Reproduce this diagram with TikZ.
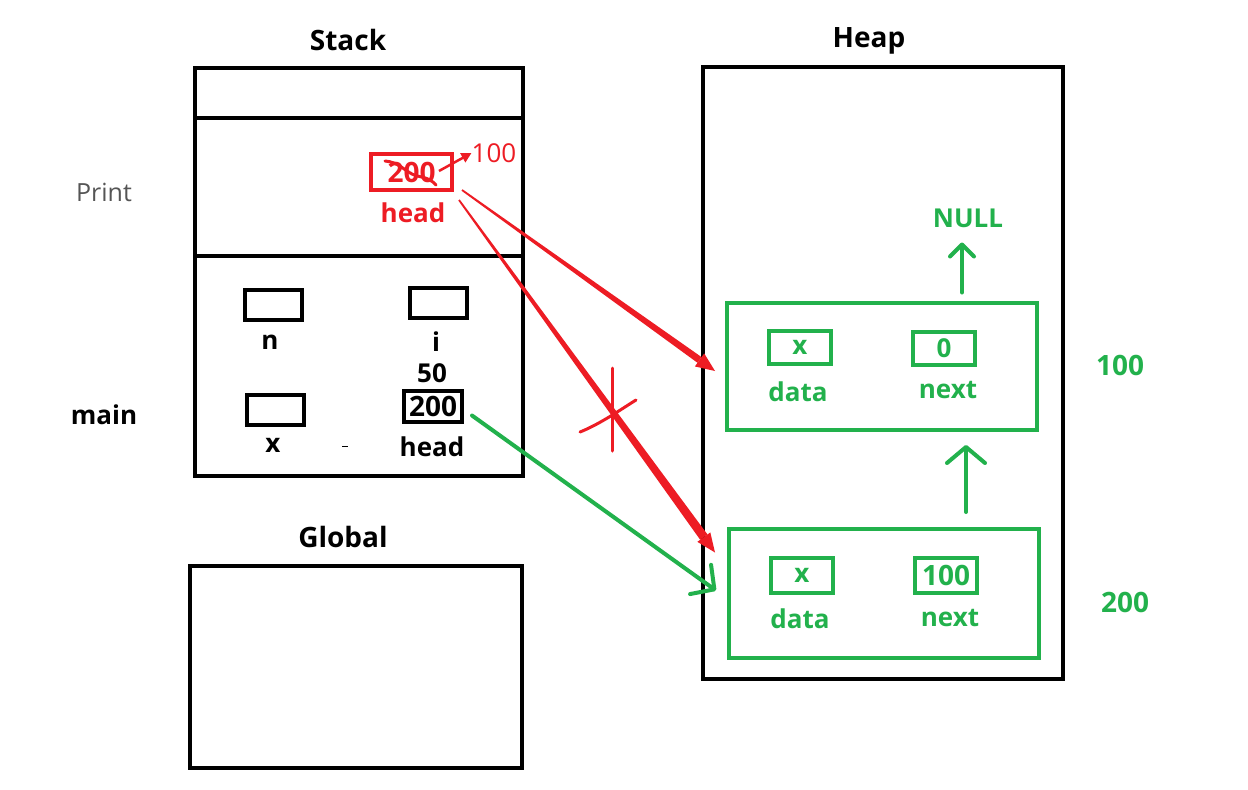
\documentclass[tikz,border=0pt]{standalone}
\usepackage{fontspec}
\setmainfont{Open Sans}
\usetikzlibrary{arrows.meta,calc}
\definecolor{pgreen}{RGB}{34,177,76}
\definecolor{pred}{RGB}{237,28,36}
\definecolor{pgray}{RGB}{85,85,85}
\newcommand{\taperarrow}[4]{%
  \path (#1) coordinate (ta) (#2) coordinate (tb);
  \coordinate (tc) at ($(tb)!19pt!(ta)$);
  \fill[pred] ($(ta)!#3!90:(tc)$) -- ($(tc)!#4!-90:(ta)$) -- ($(tc)!#4!90:(ta)$) -- ($(ta)!#3!-90:(tc)$) -- cycle;
  \fill[pred] (tb) -- ($(tc)!8pt!90:(tb)$) -- ($(tc)!8pt!-90:(tb)$) -- cycle;
}
\begin{document}
\begin{tikzpicture}[x=1pt,y=-1pt,
  frame/.style={draw=black,line width=4pt,inner sep=0pt},
  gframe/.style={draw=pgreen,line width=4pt,inner sep=0pt},
  lbl/.style={font=\fontsize{26}{30}\selectfont\bfseries,inner sep=0pt},
  digits/.style={font=\fontsize{28}{32}\selectfont\bfseries},
  ttl/.style={font=\fontsize{28}{32}\selectfont\bfseries,inner sep=0pt},
  glbl/.style={lbl,text=pgreen},
  garrow/.style={draw=pgreen,line width=4pt,line cap=round,-{Straight Barb[round,length=#1]}},
  garrow/.default={12pt,width=24pt}
]
\useasboundingbox (0,0) rectangle (1248,790);
\fill[white] (0,0) rectangle (1248,790);

% ---------- Stack ----------
\node[ttl] (stackt) at (348,40) {Stack};
\node[frame,minimum width=328pt,minimum height=408pt] (stack) at (359,272) {};
\draw[line width=4pt] ($(stack.north west)+(0,52)$) -- ($(stack.north east)+(0,52)$);
\draw[line width=4pt] ($(stack.north west)+(0,190)$) -- ($(stack.north east)+(0,190)$);
\node[font=\fontsize{25}{30}\selectfont,text=pgray,inner sep=0pt] (print) at (104,192) {Print};
\node[lbl] (mainl) at (104,415) {main};

% Print frame: head
\node[draw=pred,line width=4pt,inner sep=0pt,minimum width=81pt,minimum height=36pt,
      digits,text=pred] (rbox) at (411.5,172) {200};
\draw[pred,line width=3pt,line cap=round] (385,161) .. controls (398,162) and (404,170) .. (412,174)
      .. controls (420,178) and (428,176) .. (436,185);
\node[lbl,text=pred] (rhead) at (413,213) {head};
\node[font=\fontsize{26}{30}\selectfont,text=pred,inner sep=0pt] (r100) at (494,153) {100};
\draw[pred,line width=2.5pt,-{Triangle[length=10pt,width=10pt]}] ($(rbox.east)+(-15,-1)$) -- (r100.west);

% main frame
\node[frame,minimum width=57pt,minimum height=30pt] (nbox) at (273.5,305) {};
\node[lbl] (nl) at (270,342) {n};
\node[frame,minimum width=57pt,minimum height=30pt] (ibox) at (438.5,303) {};
\node[lbl] (il) at (436,342) {i};
\node[lbl] (fifty) at (432,373) {50};
\node[frame,minimum width=57pt,minimum height=30pt] (xbox) at (275.5,410) {};
\node[lbl] (xl) at (273,445) {x};
\node[frame,minimum width=58pt,minimum height=31pt,digits] (hbox) at (433,406.5) {200};
\node[lbl] (hl) at (432,447) {head};
\draw[line width=1pt] (342,446) -- (348,446);

% ---------- Global ----------
\node[ttl] (globt) at (343,537) {Global};
\node[frame,minimum width=332pt,minimum height=202pt] (glob) at (356,667) {};

% ---------- Heap ----------
\node[ttl] (heapt) at (869,41) {Heap};
\node[frame,minimum width=360pt,minimum height=612pt] (heap) at (883,373) {};

% node at 100
\node[gframe,minimum width=310pt,minimum height=127pt] (n100) at (882,366) {};
\node[gframe,minimum width=62pt,minimum height=33pt,glbl] (d100) at (800,347.5) {x};
\node[glbl] (d100l) at (798,392) {data};
\node[gframe,minimum width=62pt,minimum height=33pt,glbl] (x100) at (944,348.5) {0};
\node[glbl] (x100l) at (948,390) {next};
\node[glbl,font=\fontsize{28}{32}\selectfont\bfseries] (a100) at (1120,365) {100};
\node[glbl] (nulll) at (968,218) {NULL};
\draw[garrow] (n100.north) ++(80,-8) -- ++(0,-50);

% node at 200
\node[gframe,minimum width=310pt,minimum height=129pt] (n200) at (884,593.5) {};
\node[gframe,minimum width=62pt,minimum height=35pt,glbl] (d200) at (802,575) {x};
\node[glbl] (d200l) at (800,619) {data};
\node[gframe,minimum width=62pt,minimum height=35pt,glbl,digits] (x200) at (946,575) {100};
\node[glbl] (x200l) at (950,618) {next};
\node[glbl,font=\fontsize{28}{32}\selectfont\bfseries] (a200) at (1125,602) {200};
\draw[garrow={16pt,width=38pt}] (n200.north) ++(82,-15) -- ++(0,-67);

% green pointer from main head to node 200
\draw[garrow={17pt,width=36pt}] ($(hbox.east)+(8,9)$) -- ($(n200.west)+(-11,-3)$);

% red pointers from Print head
\taperarrow{$(rbox.south east)+(8,-2)$}{$(n100.west)+(-10,5)$}{0.9pt}{3.5pt}
\taperarrow{$(rbox.south east)+(5,8)$}{$(n200.west)+(-12,-41)$}{0.9pt}{4.5pt}
\draw[pred,line width=3pt,line cap=round] (612,368) -- (612,451);
\draw[pred,line width=3pt,line cap=round] (580,432) .. controls (600,424) and (620,410) .. (636,400);
\end{tikzpicture}
\end{document}
